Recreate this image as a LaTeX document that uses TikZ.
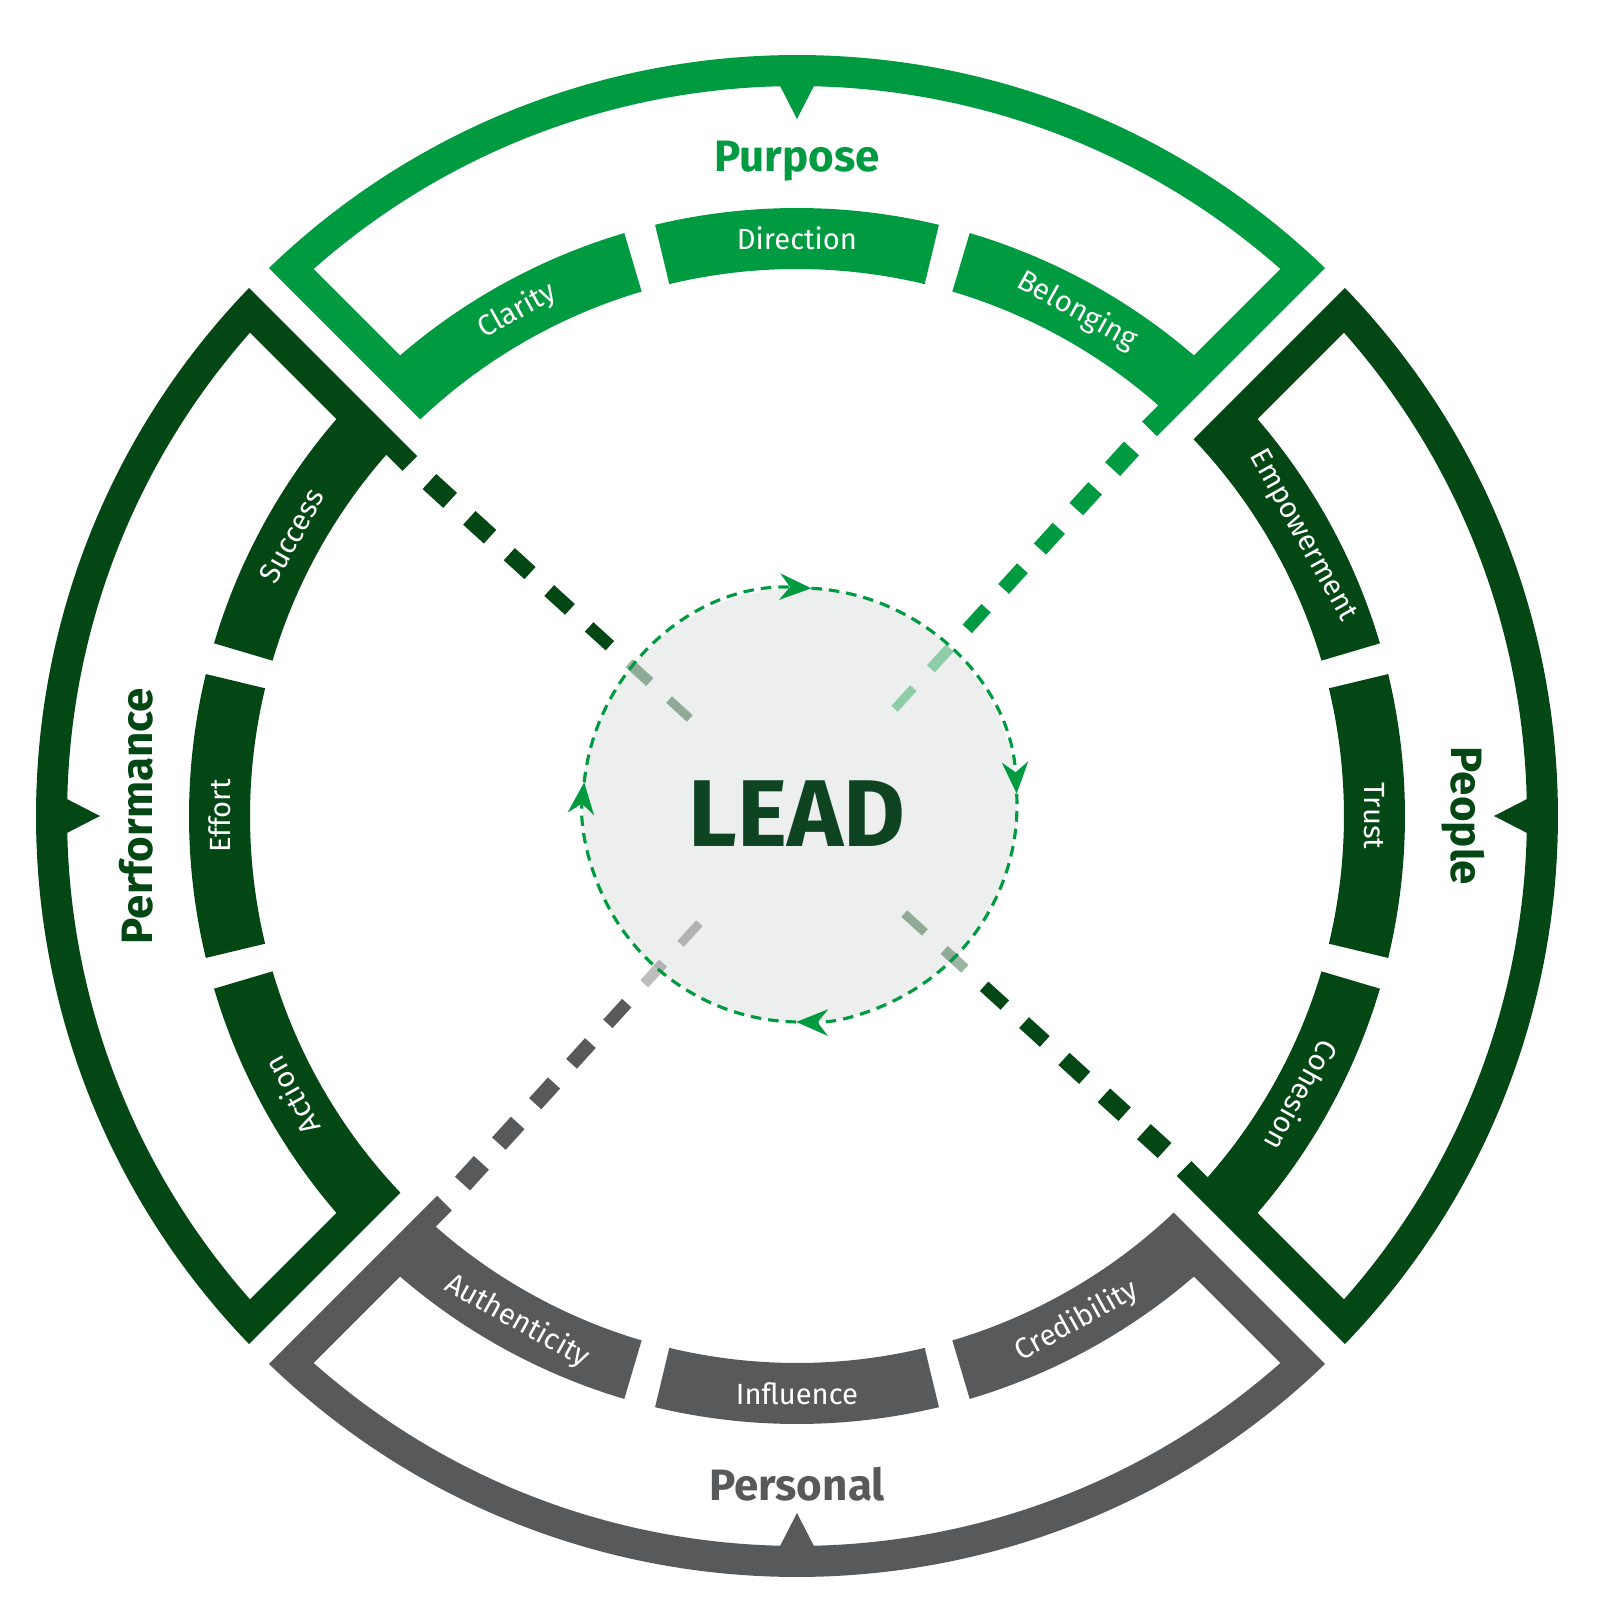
\documentclass[tikz,border=0pt]{standalone}
\usepackage{fontspec}
\setmainfont{Fira Sans}
\usetikzlibrary{arrows.meta}
\definecolor{purposegreen}{RGB}{0,155,64}
\definecolor{darkgreen}{RGB}{3,71,21}
\definecolor{personalgray}{RGB}{88,89,91}
\definecolor{leadgreen}{RGB}{14,68,34}
\definecolor{corefill}{RGB}{237,239,238}

\begin{document}
\begin{tikzpicture}[
    seglabel/.style={text=white,font=\fontsize{8.3}{10}\selectfont},
    quadtitle/.style={font=\fontsize{12.5}{15}\selectfont\bfseries},
    coreline/.style={purposegreen,line width=0.9pt,dash pattern=on 3pt off 2pt,
                     -{Stealth[length=9pt,width=7.5pt]}}]
  \useasboundingbox (-7.97,-7.83) rectangle (8.02,8.16);
  \def\Ro{7.61} \def\Ri{7.30}   % outer band
  \def\ro{6.08} \def\ri{5.47}   % segment band
  \def\dO{0.14} \def\dI{0.45} \def\dS{0.35} \def\aS{5.23}
  \node[circle,fill=corefill,minimum size=4.34cm,inner sep=0pt] (core) at (0.03,0.11) {};
  \foreach \q/\rot/\col/\flip/\trad/\title/\sa/\sb/\sc in {
      purpose/45/purposegreen/-90/6.55/Purpose/Clarity/Direction/Belonging,
      people/-45/darkgreen/-90/6.66/People/Empowerment/Trust/Cohesion,
      personal/-135/personalgray/90/6.68/Personal/Credibility/Influence/Authenticity,
      performance/135/darkgreen/-90/6.61/Performance/Action/Effort/Success} {
    \begin{scope}[rotate=\rot,color=\col]
      % bracket, with the two end segments and the stub
      \fill ({asin(\dO/\Ro)}:\Ro)
        arc[start angle={asin(\dO/\Ro)},end angle={90-asin(\dO/\Ro)},radius=\Ro]
        -- ({90-asin(\dO/\ri)}:\ri)
        arc[start angle={90-asin(\dO/\ri)},end angle=61.5,radius=\ri]
        -- (61.5:\ro)
        arc[start angle=61.5,end angle={90-asin(\dI/\ro)},radius=\ro]
        -- ({90-asin(\dI/\Ri)}:\Ri)
        arc[start angle={90-asin(\dI/\Ri)},end angle={asin(\dI/\Ri)},radius=\Ri]
        -- ({asin(\dI/\ro)}:\ro)
        arc[start angle={asin(\dI/\ro)},end angle=28.5,radius=\ro]
        -- (28.5:\ri)
        arc[start angle=28.5,end angle={asin(\dS/\ri)},radius=\ri]
        -- (\aS,\dS) -- (\aS,\dO) -- cycle;
      \fill (31.5:\ri) arc[start angle=31.5,end angle=58.5,radius=\ri]
        -- (58.5:\ro) arc[start angle=58.5,end angle=31.5,radius=\ro] -- cycle;
      \fill[rotate=45] (\Ri+0.05,-0.195) -- (\Ri-0.33,0) -- (\Ri+0.05,0.195) -- cycle;  % notch
      \foreach \r/\op in {4.83/1,4.29/1,3.75/1,3.21/1,2.67/1,2.13/.4,1.59/.4} {
        \fill[rotate=2.7,opacity=\op] (\r-0.14,{-0.015-0.018*\r}) -- (\r+0.14,{-0.015-0.018*\r})
          -- (\r+0.14,{0.015+0.018*\r}) -- (\r-0.14,{0.015+0.018*\r}) -- cycle;
      }
      \node[seglabel,rotate={\rot+74+\flip}] (\q-a) at (74:5.775) {\sa};
      \node[seglabel,rotate={\rot+45+\flip}] (\q-b) at (45:5.775) {\sb};
      \node[seglabel,rotate={\rot+16+\flip}] (\q-c) at (16:5.775) {\sc};
      \node[quadtitle,text=\col,rotate={\rot+45+\flip}] (\q) at (45:\trad) {\title};
    \end{scope}
  }
  \foreach \a/\b in {174/87,87/3,3/-91,-91/-186}
    \draw[coreline] ([shift={(\a:2.17)}]core.center) arc[start angle=\a,end angle=\b,radius=2.17];
  \node[font=\fontsize{27}{32}\selectfont\bfseries,text=leadgreen] (lead) at (0,0.02) {LEAD};
\end{tikzpicture}
\end{document}
